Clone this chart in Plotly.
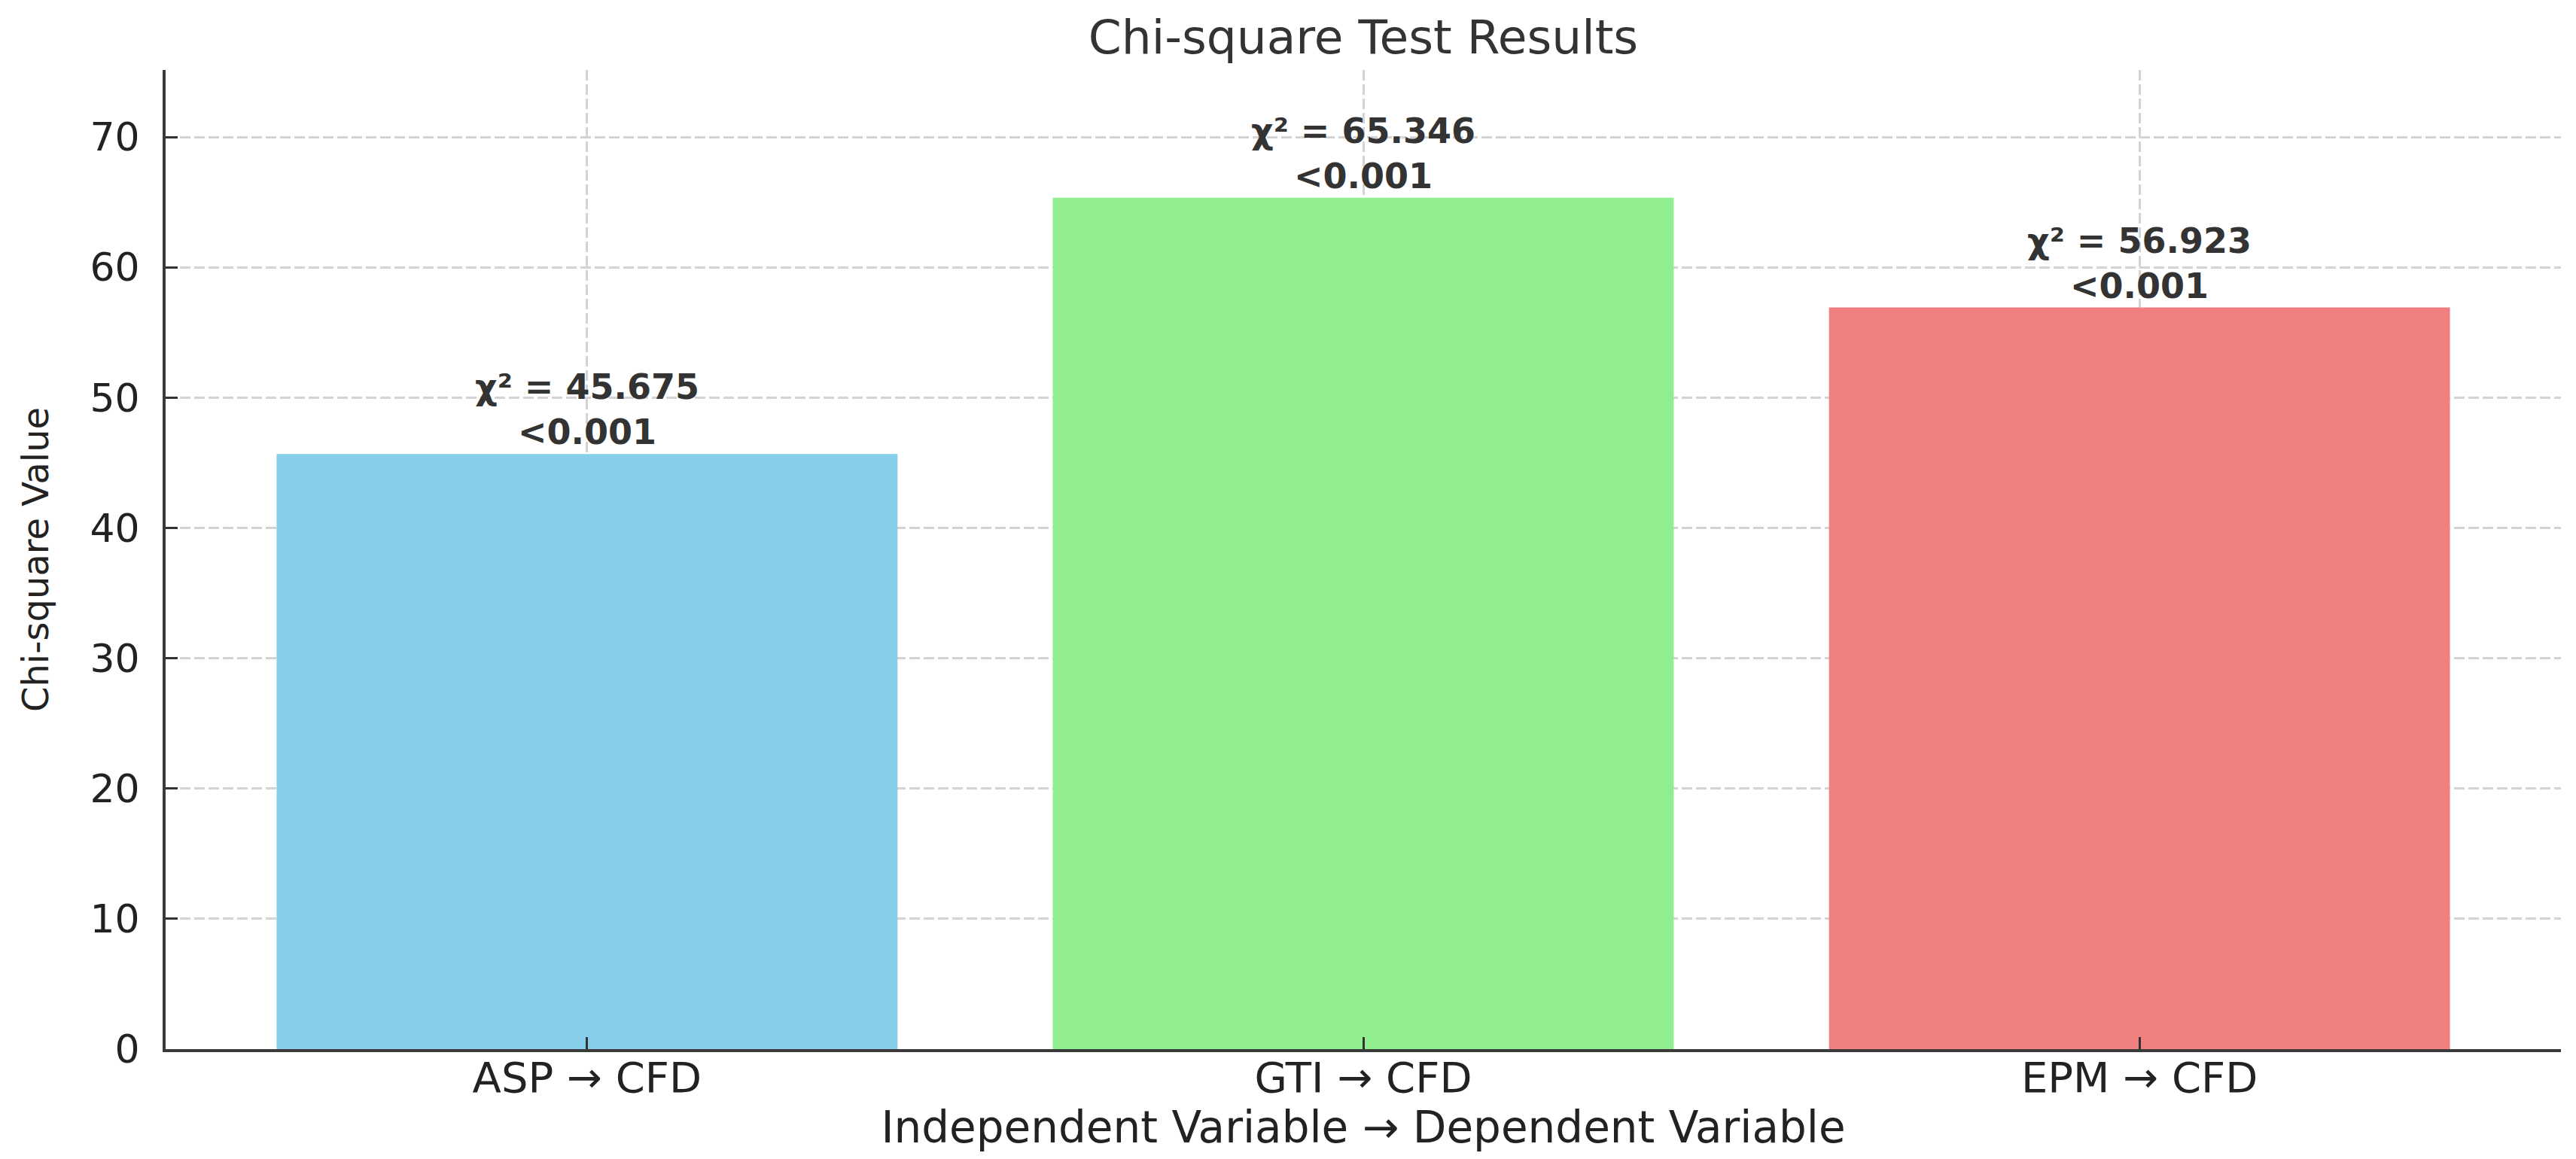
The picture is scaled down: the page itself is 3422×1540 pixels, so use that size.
import plotly.graph_objects as go

# ---- data ----
categories = ["ASP → CFD", "GTI → CFD", "EPM → CFD"]
chi_square = [45.675, 65.346, 56.923]
p_values = ["<0.001", "<0.001", "<0.001"]
bar_colors = ["#87CEEB", "#90EE90", "#F08080"]
y_ticks = [0, 10, 20, 30, 40, 50, 60, 70]

FONT = "DejaVu Sans"

fig = go.Figure(
    go.Bar(
        x=categories,
        y=chi_square,
        marker=dict(color=bar_colors, line=dict(width=0)),
        width=0.8,
        showlegend=False,
        hoverinfo="x+y",
    )
)

for cat, val, p in zip(categories, chi_square, p_values):
    fig.add_annotation(
        x=cat, y=val, xref="x", yref="y",
        text=f"<b>χ² = {val:.3f}<br>" + p.replace("<", "&lt;") + "</b>",
        showarrow=False, yanchor="middle", yshift=59,
        align="center",
        font=dict(family=FONT, size=46, color="#333333"),
    )

grid_kw = dict(
    showgrid=True,
    gridcolor="#d4d4d4",
    gridwidth=2.5,
    griddash="14px,5px",
)

fig.update_layout(
    width=3422,
    height=1540,
    autosize=False,
    margin=dict(l=220, r=20, t=93, b=146, pad=0),
    paper_bgcolor="white",
    plot_bgcolor="white",
    font=dict(family=FONT, color="#222222"),
    title=dict(
        text="Chi-square Test Results",
        x=0.5, xref="paper", xanchor="center",
        y=1 - 49 / 1540, yref="container", yanchor="middle",
        font=dict(family=FONT, size=63, color="#333333"),
    ),
    bargap=0.2,
)

fig.update_xaxes(
    type="category",
    range=[-0.543, 2.543],
    showline=True, linecolor="#3a3a3a", linewidth=4,
    ticks="inside", ticklen=16, tickwidth=3, tickcolor="#333333",
    tickfont=dict(family=FONT, size=56, color="#222222"),
    ticklabelstandoff=-14,
    title=dict(text="Independent Variable → Dependent Variable",
               font=dict(family=FONT, size=58, color="#222222"), standoff=6),
    zeroline=False,
    **grid_kw,
)

fig.update_yaxes(
    range=[0, max(chi_square) * 1.15],
    tickvals=y_ticks,
    showline=True, linecolor="#3a3a3a", linewidth=4,
    ticks="inside", ticklen=16, tickwidth=3, tickcolor="#333333",
    tickfont=dict(family=FONT, size=52, color="#222222"),
    ticklabelstandoff=20,
    title=dict(text="Chi-square Value",
               font=dict(family=FONT, size=48, color="#222222"), standoff=41),
    zeroline=False,
    **grid_kw,
)

fig.write_html(
    "out.html",
    config={"displayModeBar": False},
    post_script="document.body.style.margin='0';document.body.style.overflow='hidden';",
)
